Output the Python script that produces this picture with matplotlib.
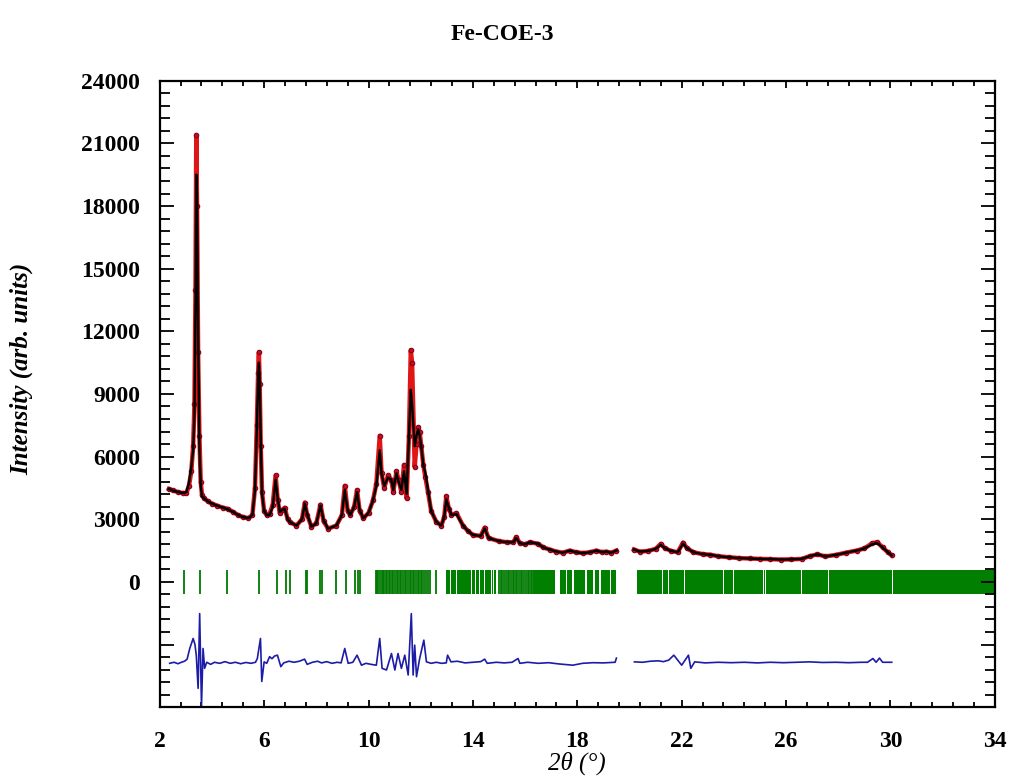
import numpy as np
import matplotlib
matplotlib.use("Agg")
import matplotlib.pyplot as plt
from matplotlib.ticker import MultipleLocator, FuncFormatter

plt.rcParams["font.family"] = ["Liberation Serif", "DejaVu Serif"]

# Observed / calculated profile (2theta, intensity), NaN marks the excluded region
two_theta = [2.35, 2.50, 2.70, 2.90, 3.02, 3.12, 3.21, 3.28, 3.33, 3.37,
             3.40, 3.43, 3.47, 3.52, 3.57, 3.62, 3.70, 3.85, 4.00, 4.20,
             4.43, 4.60, 4.81, 5.00, 5.20, 5.40, 5.55, 5.65, 5.72, 5.77,
             5.80, 5.83, 5.87, 5.92, 6.00, 6.10, 6.21, 6.33, 6.44, 6.52,
             6.60, 6.70, 6.79, 6.90, 7.00, 7.24, 7.45, 7.56, 7.65, 7.81,
             8.00, 8.16, 8.28, 8.45, 8.77, 8.98, 9.09, 9.20, 9.30, 9.45,
             9.56, 9.66, 9.80, 10.00, 10.17, 10.30, 10.43, 10.50, 10.60, 10.75,
             10.87, 10.95, 11.07, 11.15, 11.26, 11.36, 11.46, 11.55, 11.62, 11.67,
             11.77, 11.84, 11.90, 11.96, 12.02, 12.10, 12.18, 12.28, 12.40, 12.60,
             12.79, 12.90, 12.98, 13.08, 13.18, 13.37, 13.62, 13.80, 14.00, 14.30,
             14.45, 14.60, 15.00, 15.30, 15.55, 15.66, 15.80, 16.00, 16.18, 16.49,
             16.70, 16.94, 17.20, 17.45, 17.71, 17.95, 18.22, 18.50, 18.73, 18.95,
             19.11, 19.30, 19.50, 19.80,
             20.17, 20.40, 20.70, 21.00, 21.20, 21.35, 21.60, 21.85, 22.05, 22.20,
             22.45, 22.80, 23.10, 23.40, 23.80, 24.20, 24.60, 25.00, 25.40, 25.80,
             26.20, 26.60, 26.90, 27.20, 27.50, 27.90, 28.30, 28.70, 29.00, 29.30,
             29.50, 29.70, 29.90, 30.05]

y_obs = [4450, 4380, 4300, 4250, 4250, 4600, 5300, 6500, 8500, 14000,
         21400, 18000, 11000, 7000, 4800, 4150, 4000, 3850, 3750, 3650,
         3550, 3500, 3350, 3200, 3100, 3050, 3200, 4500, 7500, 10000,
         11000, 9500, 6500, 4300, 3400, 3200, 3250, 3700, 5100, 3900,
         3300, 3450, 3550, 3000, 2850, 2700, 3000, 3800, 3200, 2650,
         2800, 3700, 2900, 2550, 2700, 3200, 4600, 3400, 3200, 3600,
         4400, 3400, 3050, 3300, 3900, 4700, 7000, 5200, 4500, 5100,
         4900, 4300, 5300, 4900, 4300, 5600, 4000, 7000, 11100, 10500,
         5500, 6600, 7400, 7200, 6500, 5600, 5000, 4300, 3400, 2870,
         2700, 3100, 4100, 3500, 3200, 3300, 2700, 2450, 2250, 2200,
         2600, 2100, 1950, 1900, 1900, 2150, 1850, 1800, 1900, 1830,
         1650, 1550, 1450, 1400, 1500, 1420, 1380, 1420, 1500, 1420,
         1450, 1400, 1500, np.nan,
         1550, 1450, 1480, 1580, 1820, 1620, 1480, 1420, 1880, 1620,
         1420, 1330, 1300, 1230, 1180, 1140, 1120, 1100, 1090, 1070,
         1080, 1100, 1230, 1320, 1220, 1290, 1400, 1500, 1600, 1850,
         1900, 1650, 1420, 1270]

y_calc = [4450, 4380, 4300, 4260, 4300, 4750, 5500, 6300, 8000, 13000,
          19500, 18500, 12000, 6500, 4600, 4100, 4000, 3850, 3750, 3650,
          3550, 3480, 3350, 3200, 3100, 3050, 3200, 4400, 7300, 9800,
          10500, 9700, 6800, 4200, 3400, 3200, 3200, 3600, 4900, 4000,
          3350, 3450, 3500, 3000, 2850, 2700, 3000, 3750, 3250, 2650,
          2800, 3650, 2950, 2550, 2700, 3200, 4400, 3450, 3200, 3600,
          4300, 3450, 3050, 3300, 3900, 4600, 6300, 5200, 4600, 5000,
          4900, 4400, 5200, 4800, 4400, 5300, 4200, 7000, 9200, 8500,
          6500, 7000, 7300, 7000, 6500, 5600, 5200, 4400, 3400, 2870,
          2700, 3100, 3950, 3550, 3200, 3250, 2700, 2450, 2250, 2200,
          2550, 2100, 1950, 1900, 1900, 2100, 1850, 1800, 1900, 1830,
          1650, 1550, 1450, 1400, 1500, 1420, 1380, 1420, 1500, 1420,
          1450, 1400, 1500, np.nan,
          1550, 1450, 1480, 1580, 1770, 1620, 1480, 1420, 1830, 1620,
          1420, 1330, 1300, 1230, 1180, 1140, 1120, 1100, 1090, 1070,
          1080, 1100, 1230, 1320, 1220, 1290, 1400, 1500, 1600, 1800,
          1850, 1650, 1420, 1270]

# Difference curve (already offset)
diff_x = [2.38, 2.55, 2.70, 2.83, 2.95, 3.05, 3.15, 3.28, 3.35, 3.40,
          3.47, 3.53, 3.60, 3.66, 3.72, 3.80, 3.95, 4.10, 4.30, 4.50,
          4.70, 4.90, 5.10, 5.30, 5.50, 5.67, 5.74, 5.86, 5.91, 6.00,
          6.10, 6.21, 6.30, 6.40, 6.51, 6.64, 6.75, 6.95, 7.15, 7.35,
          7.55, 7.65, 7.85, 8.05, 8.20, 8.40, 8.60, 8.80, 8.95, 9.09,
          9.22, 9.40, 9.56, 9.73, 9.90, 10.10, 10.30, 10.43, 10.52, 10.69,
          10.88, 11.01, 11.13, 11.26, 11.39, 11.52, 11.64, 11.71, 11.77, 11.84,
          11.96, 12.12, 12.22, 12.40, 12.60, 12.80, 12.98, 13.03, 13.16, 13.40,
          13.70, 14.00, 14.30, 14.45, 14.55, 14.90, 15.20, 15.50, 15.73, 15.80,
          16.10, 16.50, 16.90, 17.30, 17.83, 18.20, 18.60, 19.00, 19.30, 19.45,
          19.50, 19.80,
          20.19, 20.50, 20.80, 21.10, 21.30, 21.50, 21.70, 22.00, 22.26, 22.35,
          22.50, 22.90, 23.40, 23.90, 24.40, 24.90, 25.40, 25.90, 26.40, 26.90,
          27.40, 27.90, 28.40, 28.90, 29.12, 29.33, 29.45, 29.58, 29.70, 30.05]
diff_y = [-3900, -3850, -3920, -3850, -3800, -3700, -3190, -2710, -3000, -3510,
          -5100, -1520, -5950, -3190, -4140, -3850, -3950, -3850, -3900, -3820,
          -3900, -3850, -3920, -3860, -3900, -3850, -3670, -2710, -4770, -3830,
          -3900, -3580, -3680, -3550, -3510, -4060, -3880, -3800, -3850, -3800,
          -3700, -3950, -3850, -3800, -3880, -3820, -3900, -3850, -3880, -3190,
          -3900, -3850, -3510, -3990, -3900, -3950, -3990, -2710, -4140, -4220,
          -3430, -4220, -3430, -4140, -3510, -4460, -1520, -4460, -3030, -4540,
          -3670, -2790, -3830, -3900, -3850, -3900, -3880, -3510, -3830, -3800,
          -3880, -3850, -3820, -3700, -3900, -3850, -3880, -3850, -3670, -3900,
          -3850, -3900, -3870, -3930, -3990, -3900, -3870, -3880, -3860, -3850,
          -3650, np.nan,
          -3830, -3850, -3800, -3780, -3820, -3750, -3510, -3990, -3510, -4140,
          -3830, -3880, -3850, -3870, -3850, -3880, -3850, -3870, -3850, -3830,
          -3860, -3850, -3870, -3850, -3850, -3670, -3850, -3650, -3850, -3850]

# Bragg reflection positions (single ticks) and merged reflection bands
bragg_ticks = [2.93, 3.53, 4.58, 5.80, 6.51, 6.83, 7.01, 7.59, 7.64, 8.13,
               8.23, 8.77, 9.13, 9.47, 9.60, 9.69,
               10.30, 10.34, 10.38, 10.45, 10.50, 10.56, 10.60, 10.66, 10.71, 10.78,
               10.82, 10.90, 10.95, 11.00, 11.08, 11.12, 11.20, 11.25, 11.32, 11.38,
               11.45, 11.52, 11.58, 11.62, 11.70, 11.76, 11.82, 11.88, 11.95, 12.00,
               12.06, 12.12, 12.20, 12.28, 12.34, 12.57,
               15.00, 15.06, 15.12, 15.20, 15.25, 15.33, 15.40, 15.46, 15.52, 15.58,
               15.64, 15.70, 15.78, 15.85, 15.90, 15.96, 16.02, 16.10, 16.16, 16.22,
               16.28]
band_start = [12.96, 13.16, 13.39, 13.96, 14.13, 14.28, 14.47, 14.73, 14.82,
              16.30, 17.33, 17.62, 17.86, 18.36, 18.66, 18.92, 19.30,
              20.30, 21.30, 21.52, 22.13, 23.63, 24.01, 25.14, 25.24, 26.61, 27.63,
              30.09]
band_end = [13.12, 13.35, 13.92, 14.09, 14.24, 14.43, 14.69, 14.78, 14.90,
            17.13, 17.55, 17.80, 18.30, 18.60, 18.85, 19.25, 19.50,
            21.26, 21.48, 22.09, 23.59, 23.97, 25.10, 25.20, 26.57, 27.59, 30.05,
            34.00]
bragg_half = 580

fig, ax = plt.subplots(figsize=(10.11, 7.84), dpi=100)
fig.subplots_adjust(left=0.158, right=0.984, top=0.897, bottom=0.098)

# observed as thick red band with dots, calculated as black line
ax.plot(two_theta, y_obs, color="#e01515", lw=3.2, zorder=2)
ax.plot(two_theta, y_obs, ls="none", marker="o", ms=3.2,
        mfc="#c01020", mec="#8a0018", mew=0.8, zorder=3)
ax.plot(two_theta, y_calc, color="black", lw=1.7, zorder=4)

ax.vlines(bragg_ticks, -bragg_half, bragg_half, color="#007a00", lw=1.3)
widths = [e - s for s, e in zip(band_start, band_end)]
ax.bar(band_start, 2 * bragg_half, width=widths, bottom=-bragg_half,
       align="edge", color="#007f00", linewidth=0)

ax.plot(diff_x, diff_y, color="#1c1ca8", lw=1.2)

ax.set_xlim(2, 34)
ax.set_ylim(-6000, 24000)
ax.xaxis.set_major_locator(MultipleLocator(4, offset=2))
ax.xaxis.set_minor_locator(MultipleLocator(0.8, offset=0.4))
ax.yaxis.set_major_locator(MultipleLocator(3000))
ax.yaxis.set_minor_locator(MultipleLocator(600))
ax.yaxis.set_major_formatter(FuncFormatter(lambda v, p: "" if v < 0 else f"{v:.0f}"))

ax.tick_params(which="both", direction="in", top=True, right=True, width=1.3)
ax.tick_params(axis="y", which="major", length=10, pad=14, labelsize=17)
ax.tick_params(axis="y", which="minor", length=7)
ax.tick_params(axis="x", which="major", length=5, pad=17, labelsize=17)
ax.tick_params(axis="x", which="minor", length=3.5)
for lab in ax.get_xticklabels() + ax.get_yticklabels():
    lab.set_fontweight("bold")
for sp in ax.spines.values():
    sp.set_linewidth(1.6)

ax.set_xlabel("2θ (°)", fontsize=18, style="italic", labelpad=0)
ax.set_ylabel("Intensity (arb. units)", fontsize=18, style="italic", fontweight="bold")
ax.yaxis.set_label_coords(-0.152, 0.54)
fig.suptitle("Fe-COE-3", fontsize=17, fontweight="bold", x=0.497, y=0.97)

fig.savefig("out.png", dpi=100)
